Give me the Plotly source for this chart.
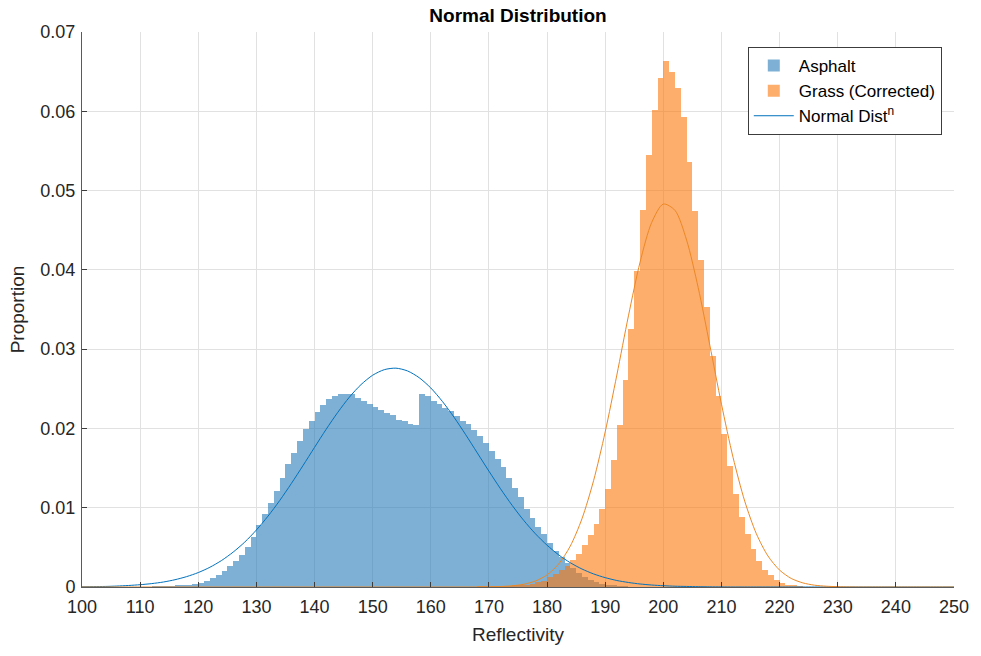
import plotly.graph_objects as go

# ---------------- data ----------------
asphalt_start = 110
asphalt_props = [
    0.00003, 0.00005, 0.00007, 0.0001, 0.00012, 0.00015, 0.0002, 0.00025, 0.0003, 0.0004,   # 110-119
    0.0005, 0.0008, 0.0011, 0.0015, 0.0020, 0.0026, 0.0033, 0.0040, 0.0050, 0.0063,          # 120-129
    0.0078, 0.0092, 0.0106, 0.0121, 0.0138, 0.0155, 0.0169, 0.0184, 0.0199, 0.0210,          # 130-139
    0.0221, 0.0229, 0.0237, 0.0241, 0.0243, 0.0244, 0.0243, 0.0238, 0.0234, 0.0231,          # 140-149
    0.0227, 0.0223, 0.0220, 0.0217, 0.0211, 0.0209, 0.0206, 0.0204, 0.0243, 0.0241,          # 150-159
    0.0234, 0.0231, 0.0226, 0.0222, 0.0216, 0.0210, 0.0206, 0.0198, 0.0190, 0.0182,          # 160-169
    0.0172, 0.0162, 0.0151, 0.0138, 0.0125, 0.0113, 0.0099, 0.0087, 0.0076, 0.0067,          # 170-179
    0.0055, 0.0046, 0.0038, 0.0030, 0.0024, 0.0018, 0.0013, 0.0009, 0.0006, 0.0004,          # 180-189
    0.0003, 0.0002, 0.0001, 0.0001, 0.00005,                                                 # 190-194
]

grass_start = 165
grass_props = [
    0.00003, 0.00005, 0.00005, 0.00007, 0.00008,                                             # 165-169
    0.0001, 0.0001, 0.00012, 0.00015, 0.0002, 0.00025, 0.0003, 0.0004, 0.0006, 0.0008,      # 170-179
    0.0012, 0.0016, 0.0021, 0.0027, 0.0034, 0.0042, 0.0053, 0.0065, 0.0080, 0.0099,          # 180-189
    0.0124, 0.0160, 0.0204, 0.0261, 0.0326, 0.0399, 0.0475, 0.0545, 0.0602, 0.0642,          # 190-199
    0.0664, 0.0650, 0.0630, 0.0593, 0.0536, 0.0474, 0.0412, 0.0353, 0.0291, 0.0241,          # 200-209
    0.0193, 0.0153, 0.0117, 0.0088, 0.0067, 0.0048, 0.0033, 0.0022, 0.0015, 0.0009,          # 210-219
    0.0005, 0.0003, 0.0002, 0.0001, 0.00005,                                                 # 220-224
]

curve_x = list(range(100, 252, 2))
asphalt_curve = [
    0.00003, 0.00005, 0.00007, 0.00012, 0.00019, 0.00029, 0.00043, 0.00063, 0.00092, 0.00131,  # 100-118
    0.00182, 0.00249, 0.00334, 0.00440, 0.00567, 0.00719, 0.00894, 0.01090, 0.01304, 0.01530,  # 120-138
    0.01761, 0.01989, 0.02203, 0.02395, 0.02553, 0.02671, 0.02741, 0.02760, 0.02725, 0.02640,  # 140-158
    0.02510, 0.02340, 0.02141, 0.01921, 0.01691, 0.01461, 0.01238, 0.01029, 0.00839, 0.00671,  # 160-178
    0.00527, 0.00405, 0.00306, 0.00227, 0.00165, 0.00118, 0.00082, 0.00057, 0.00038, 0.00025,  # 180-198
    0.00016, 0.00010, 0.00007, 0.00004, 0.00002, 0.00001,                                      # 200-210
    0, 0, 0, 0, 0, 0, 0, 0, 0, 0, 0, 0, 0, 0, 0, 0, 0, 0, 0, 0,                                # 212-250
]
grass_curve = [
    0, 0, 0, 0, 0, 0, 0, 0, 0, 0,                                                              # 100-118
    0, 0, 0, 0, 0, 0, 0, 0, 0, 0,                                                              # 120-138
    0, 0, 0, 0, 0, 0, 0, 0, 0, 0,                                                              # 140-158
    0, 0, 0, 0, 0.00001,                                                                       # 160-168
    0.00002, 0.00006, 0.00015, 0.00035, 0.00076, 0.00153, 0.00291, 0.00517, 0.00860, 0.01341,  # 170-188
    0.01956, 0.02673, 0.03420, 0.04098, 0.04598, 0.04830, 0.04751, 0.04376, 0.03775, 0.03049,  # 190-208
    0.02306, 0.01633, 0.01083, 0.00672, 0.00391, 0.00213, 0.00108, 0.00052, 0.00023, 0.00010,  # 210-228
    0.00004, 0.00001, 0, 0, 0, 0, 0, 0, 0, 0, 0,                                               # 230-250
]

x_ticks = list(range(100, 260, 10))
y_ticks = [0, 0.01, 0.02, 0.03, 0.04, 0.05, 0.06, 0.07]
y_tick_labels = ["0", "0.01", "0.02", "0.03", "0.04", "0.05", "0.06", "0.07"]

# ---------------- figure ----------------
asphalt_x = [asphalt_start + i + 0.5 for i in range(len(asphalt_props))]
grass_x = [grass_start + i + 0.5 for i in range(len(grass_props))]

BLUE_FILL = "rgba(40,123,185,0.6)"
ORANGE_FILL = "rgba(252,118,10,0.6)"
BLUE_LINE = "rgb(0,114,189)"
ORANGE_LINE = "rgb(236,136,36)"
FONT = "Liberation Sans, Arial, sans-serif"

fig = go.Figure()
fig.add_trace(go.Bar(x=asphalt_x, y=asphalt_props, width=1, name="Asphalt",
                     marker=dict(color=BLUE_FILL, line=dict(width=0))))
fig.add_trace(go.Bar(x=grass_x, y=grass_props, width=1, name="Grass (Corrected)",
                     marker=dict(color=ORANGE_FILL, line=dict(width=0))))
fig.add_trace(go.Scatter(x=curve_x, y=asphalt_curve, mode="lines", name="Normal Dist<sup>n</sup>",
                         line=dict(color=BLUE_LINE, width=1, shape="spline", smoothing=0.8)))
fig.add_trace(go.Scatter(x=curve_x, y=grass_curve, mode="lines", showlegend=False,
                         line=dict(color=ORANGE_LINE, width=1, shape="spline", smoothing=0.8)))

fig.update_layout(
    width=981, height=656,
    margin=dict(l=82, r=17, t=32, b=69),
    paper_bgcolor="white", plot_bgcolor="white",
    barmode="overlay", bargap=0,
    font=dict(family=FONT, size=18, color="rgb(38,38,38)"),
    title=dict(text="<b>Normal Distribution</b>", x=0.5, xref="paper", xanchor="center",
               y=0.977, yanchor="middle", font=dict(size=19, color="black")),
    legend=dict(x=0.986, y=0.973, xanchor="right", yanchor="top",
                bgcolor="white", bordercolor="rgb(60,60,60)", borderwidth=1,
                font=dict(size=17, color="black"), tracegroupgap=0,
                itemwidth=40),
    showlegend=True,
)
fig.update_xaxes(
    range=[100, 250], tickmode="array", tickvals=x_ticks,
    showgrid=True, gridcolor="rgb(225,225,225)", gridwidth=1,
    showline=True, linecolor="rgb(90,90,90)", linewidth=1, mirror=False,
    ticks="inside", ticklen=5, tickcolor="rgb(60,60,60)",
    zeroline=False, ticklabelstandoff=3,
    title=dict(text="Reflectivity", font=dict(size=19), standoff=12),
    tickfont=dict(size=18),
)
fig.update_yaxes(
    range=[0, 0.07], tickmode="array", tickvals=y_ticks, ticktext=y_tick_labels,
    showgrid=True, gridcolor="rgb(225,225,225)", gridwidth=1,
    showline=True, linecolor="rgb(90,90,90)", linewidth=1, mirror=False,
    ticks="inside", ticklen=5, tickcolor="rgb(60,60,60)",
    zeroline=False, ticklabelstandoff=2,
    title=dict(text="Proportion", font=dict(size=19), standoff=10),
    tickfont=dict(size=18),
)

fig.write_html("out.html")
